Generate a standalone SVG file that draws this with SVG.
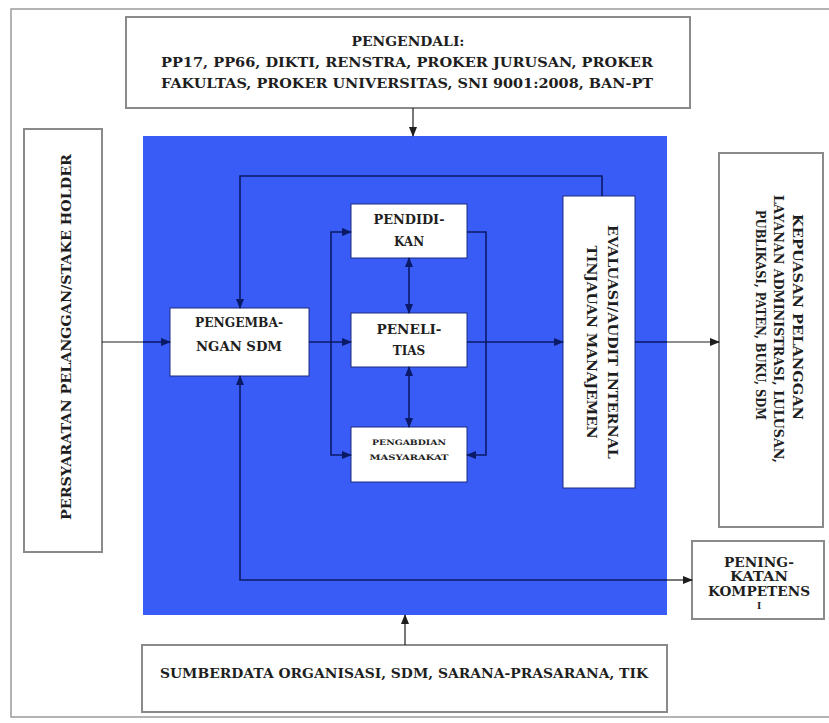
<svg xmlns="http://www.w3.org/2000/svg" width="829" height="723" viewBox="0 0 829 723">
<style>
  .box { fill: #ffffff; stroke: #8a8a8a; stroke-width: 2; }
  .ibox { fill: #ffffff; stroke: #1a2a80; stroke-width: 1; }
  .t { font-family: "DejaVu Serif", "Liberation Serif", serif; font-weight: bold; fill: #1e1e1e; text-anchor: middle; }
  .ln { fill: none; stroke: #0b1a66; stroke-width: 1.6; }
  .lo { fill: none; stroke: #1e1e1e; stroke-width: 1.2; }
</style>
<defs>
  <marker id="ah" markerWidth="10" markerHeight="8" refX="9" refY="4" orient="auto-start-reverse" markerUnits="userSpaceOnUse">
    <path d="M0,0 L10,4 L0,8 Z" fill="#0b1a66"/>
  </marker>
  <marker id="ahk" markerWidth="10" markerHeight="8" refX="9" refY="4" orient="auto-start-reverse" markerUnits="userSpaceOnUse">
    <path d="M0,0 L10,4 L0,8 Z" fill="#1e1e1e"/>
  </marker>
</defs>

<rect x="11" y="9" width="830" height="708" fill="none" stroke="#9a9a9a" stroke-width="1.5"/>

<rect id="area" x="143" y="136" width="524" height="479" fill="#3a5cf6"/>

<g id="pengendali">
  <rect class="box" x="126" y="17" width="564" height="91"/>
  <text class="t" x="408" y="46" font-size="12" textLength="113" lengthAdjust="spacingAndGlyphs">PENGENDALI:</text>
  <text class="t" x="407" y="67" font-size="12" textLength="492" lengthAdjust="spacingAndGlyphs">PP17, PP66, DIKTI, RENSTRA, PROKER JURUSAN, PROKER</text>
  <text class="t" x="407" y="88" font-size="12" textLength="492" lengthAdjust="spacingAndGlyphs">FAKULTAS, PROKER UNIVERSITAS, SNI 9001:2008, BAN-PT</text>
</g>

<g id="persyaratan">
  <rect class="box" x="24" y="129" width="78" height="423"/>
  <text class="t" font-size="12" transform="translate(71,337) rotate(-90)" textLength="366" lengthAdjust="spacingAndGlyphs">PERSYARATAN PELANGGAN/STAKE HOLDER</text>
</g>

<g id="pengembangan">
  <rect class="ibox" x="170" y="308" width="139" height="68"/>
  <text class="t" x="239" y="327" font-size="12" textLength="88" lengthAdjust="spacingAndGlyphs">PENGEMBA-</text>
  <text class="t" x="239" y="351" font-size="12" textLength="86" lengthAdjust="spacingAndGlyphs">NGAN SDM</text>
</g>

<g id="pendidikan">
  <rect class="ibox" x="351" y="204" width="116" height="54"/>
  <text class="t" x="409" y="224" font-size="12" textLength="71" lengthAdjust="spacingAndGlyphs">PENDIDI-</text>
  <text class="t" x="409" y="246" font-size="12">KAN</text>
</g>

<g id="penelitian">
  <rect class="ibox" x="351" y="313" width="116" height="54"/>
  <text class="t" x="409" y="334" font-size="12" textLength="65" lengthAdjust="spacingAndGlyphs">PENELI-</text>
  <text class="t" x="409" y="355" font-size="12">TIAS</text>
</g>

<g id="pengabdian">
  <rect class="ibox" x="351" y="427" width="116" height="55"/>
  <text class="t" x="409" y="445" font-size="7.5" textLength="74" lengthAdjust="spacingAndGlyphs">PENGABDIAN</text>
  <text class="t" x="409" y="460" font-size="7.5" textLength="79" lengthAdjust="spacingAndGlyphs">MASYARAKAT</text>
</g>

<g id="evaluasi">
  <rect class="ibox" x="563" y="196" width="72" height="292"/>
  <text class="t" font-size="12" transform="translate(608,342) rotate(90)" textLength="234" lengthAdjust="spacingAndGlyphs">EVALUASI/AUDIT INTERNAL</text>
  <text class="t" font-size="12" transform="translate(587,342) rotate(90)" textLength="193" lengthAdjust="spacingAndGlyphs">TINJAUAN MANAJEMEN</text>
</g>

<g id="kepuasan">
  <rect class="box" x="719" y="153" width="104" height="374"/>
  <text class="t" font-size="12" transform="translate(793,317) rotate(90)" textLength="206" lengthAdjust="spacingAndGlyphs">KEPUASAN PELANGGAN</text>
  <text class="t" font-size="12" transform="translate(774,329) rotate(90)" textLength="268" lengthAdjust="spacingAndGlyphs">LAYANAN ADMINISTRASI, LULUSAN,</text>
  <text class="t" font-size="12" transform="translate(756,315) rotate(90)" textLength="210" lengthAdjust="spacingAndGlyphs">PUBLIKASI, PATEN, BUKU, SDM</text>
</g>

<g id="peningkatan">
  <rect class="box" x="692" y="541" width="132" height="78"/>
  <text class="t" x="759" y="567" font-size="12" textLength="70" lengthAdjust="spacingAndGlyphs">PENING-</text>
  <text class="t" x="759" y="581" font-size="12" textLength="58" lengthAdjust="spacingAndGlyphs">KATAN</text>
  <text class="t" x="759" y="596" font-size="12" textLength="102" lengthAdjust="spacingAndGlyphs">KOMPETENS</text>
  <text class="t" x="759" y="609" font-size="9">I</text>
</g>

<g id="sumberdaya">
  <rect class="box" x="142" y="645" width="525" height="67"/>
  <text class="t" x="404" y="678" font-size="12" textLength="488" lengthAdjust="spacingAndGlyphs">SUMBERDATA ORGANISASI, SDM, SARANA-PRASARANA, TIK</text>
</g>

<g id="connectors">
  <line class="lo" x1="413" y1="108" x2="413" y2="136" marker-end="url(#ahk)"/>
  <line class="lo" x1="405" y1="645" x2="405" y2="615" marker-end="url(#ahk)"/>
  <line class="lo" x1="102" y1="342" x2="143" y2="342"/>
  <line class="ln" x1="143" y1="342" x2="170" y2="342" marker-end="url(#ah)"/>
  <line class="ln" x1="309" y1="342" x2="351" y2="342" marker-end="url(#ah)"/>
  <polyline class="ln" points="331,342 331,232 351,232" marker-end="url(#ah)"/>
  <polyline class="ln" points="331,342 331,455 351,455" marker-end="url(#ah)"/>
  <polyline class="ln" points="467,232 486,232 486,455 467,455" marker-end="url(#ah)"/>
  <line class="ln" x1="409" y1="258" x2="409" y2="313" marker-start="url(#ah)" marker-end="url(#ah)"/>
  <line class="ln" x1="409" y1="367" x2="409" y2="427" marker-start="url(#ah)" marker-end="url(#ah)"/>
  <line class="ln" x1="467" y1="342" x2="563" y2="342" marker-end="url(#ah)"/>
  <line class="ln" x1="635" y1="342" x2="667" y2="342"/>
  <line class="lo" x1="667" y1="342" x2="719" y2="342" marker-end="url(#ahk)"/>
  <polyline class="ln" points="602,196 602,176 240,176 240,308" marker-end="url(#ah)"/>
  <polyline class="ln" points="667,580 240,580 240,376" marker-end="url(#ah)"/>
  <line class="lo" x1="667" y1="580" x2="692" y2="580" marker-end="url(#ahk)"/>
</g>
</svg>
